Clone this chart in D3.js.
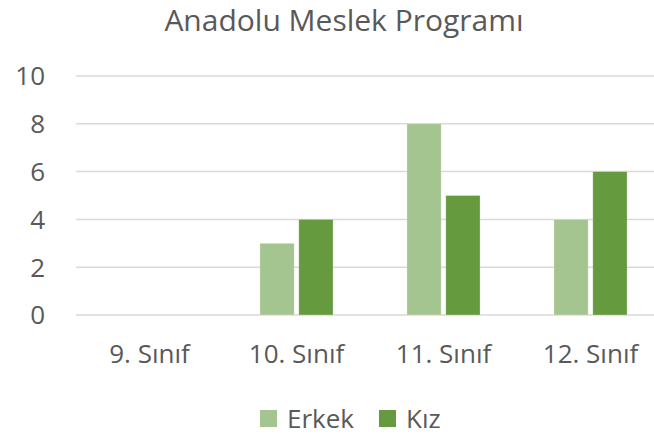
<!DOCTYPE html>
<html>
<head>
<meta charset="utf-8">
<script src="https://cdn.jsdelivr.net/npm/d3@7"></script>
<style>
  body { margin: 0; background: #fff; }
  text { font-family: "Open Sans", "Noto Sans", sans-serif; fill: #595959; }
</style>
</head>
<body>
<div id="chart"></div>
<script>
var width = 654,
    height = 438;

var categories = ["9. Sınıf", "10. Sınıf", "11. Sınıf", "12. Sınıf"];
var seriesNames = ["Erkek", "Kız"];
var erkek = [0, 3, 8, 4];
var kiz = [0, 4, 5, 6];
var yTicks = [0, 2, 4, 6, 8, 10];

var color = ["#a5c590", "#659a3f"];

var margin = {left: 76, right: -10, top: 76, bottom: 123};

var svg = d3.select("#chart").append("svg")
    .attr("width", width)
    .attr("height", height);

var x = d3.scaleBand()
    .domain(categories)
    .range([margin.left, width - margin.right]);

var xs = d3.scaleBand()
    .domain(seriesNames)
    .range([0, x.bandwidth()])
    .paddingInner(0.12)
    .paddingOuter(0.95);

var y = d3.scaleLinear()
    .domain([0, 10])
    .range([height - margin.bottom, margin.top]);

// gridlines
svg.append("g")
  .selectAll("line")
  .data(yTicks)
  .enter().append("line")
    .attr("x1", margin.left)
    .attr("x2", width)
    .attr("y1", function(d) { return y(d); })
    .attr("y2", function(d) { return y(d); })
    .style("stroke", "#d9d9d9")
    .style("stroke-width", 1.5);

// y labels
svg.append("g")
  .selectAll("text")
  .data(yTicks)
  .enter().append("text")
    .attr("x", 45)
    .attr("y", function(d) { return y(d); })
    .attr("dy", "0.36em")
    .attr("text-anchor", "end")
    .style("font-size", "26px")
    .text(function(d) { return d; });

// bars
var rows = categories.map(function(c, i) {
  return {cat: c, values: [erkek[i], kiz[i]]};
});

var group = svg.append("g")
  .selectAll("g")
  .data(rows)
  .enter().append("g")
    .attr("transform", function(d) { return "translate(" + x(d.cat) + ",0)"; });

group.selectAll("rect")
  .data(function(d) { return d.values.map(function(v, j) { return {name: seriesNames[j], value: v, j: j}; }); })
  .enter().append("rect")
    .filter(function(d) { return d.value > 0; })
    .attr("x", function(d) { return xs(d.name); })
    .attr("width", xs.bandwidth())
    .attr("y", function(d) { return y(d.value); })
    .attr("height", function(d) { return y(0) - y(d.value); })
    .style("fill", function(d) { return color[d.j]; })
    .style("stroke", "#ffffff")
    .style("stroke-opacity", 0.35)
    .style("stroke-width", 0.75);

// x labels
svg.append("g")
  .selectAll("text")
  .data(categories)
  .enter().append("text")
    .attr("x", function(d) { return x(d) + x.bandwidth() / 2; })
    .attr("y", 363)
    .attr("text-anchor", "middle")
    .style("font-size", "26px")
    .text(function(d) { return d; });

// title
svg.append("text")
    .attr("x", 344)
    .attr("y", 31)
    .attr("text-anchor", "middle")
    .style("font-size", "30px")
    .text("Anadolu Meslek Programı");

// legend
var legendX = [260, 379];
var legend = svg.append("g")
  .selectAll("g")
  .data(seriesNames)
  .enter().append("g")
    .attr("transform", function(d, i) { return "translate(" + legendX[i] + ",410)"; });

legend.append("rect")
    .attr("width", 17)
    .attr("height", 17)
    .style("fill", function(d, i) { return color[i]; });

legend.append("text")
    .attr("x", 27)
    .attr("y", 18)
    .style("font-size", "26px")
    .text(function(d) { return d; });
</script>
</body>
</html>
